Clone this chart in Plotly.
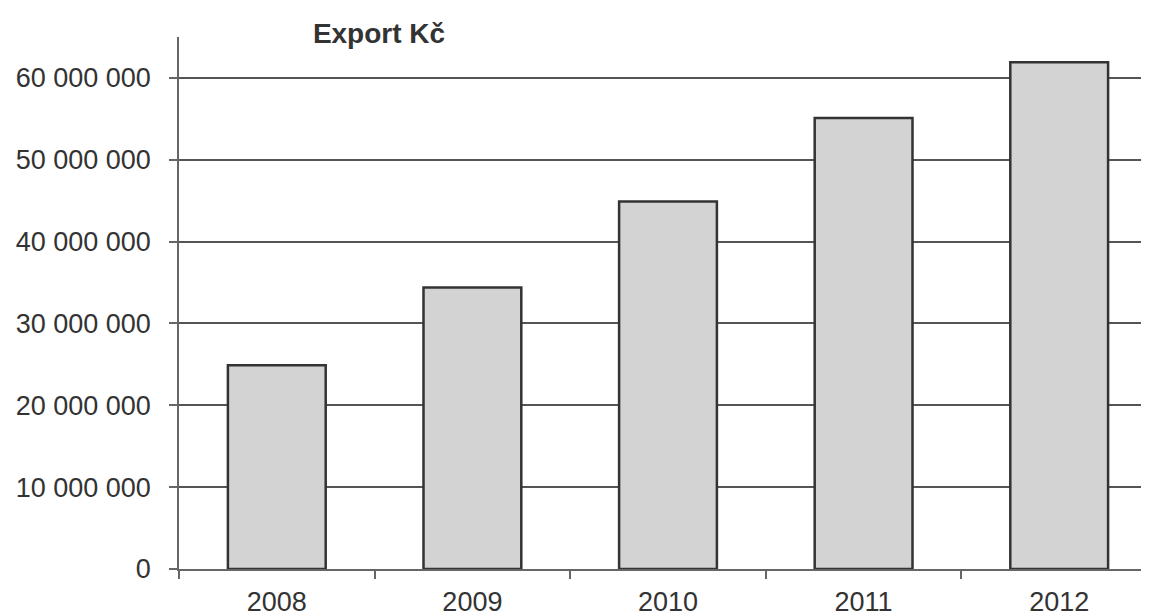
import plotly.graph_objects as go

years = ["2008", "2009", "2010", "2011", "2012"]
export_czk = [24_900_000, 34_400_000, 44_900_000, 55_100_000, 61_900_000]
y_ticks = [0, 10_000_000, 20_000_000, 30_000_000, 40_000_000, 50_000_000, 60_000_000]
y_tick_labels = ["0", "10 000 000", "20 000 000", "30 000 000", "40 000 000", "50 000 000", "60 000 000"]
title_text = "Export Kč"

FONT = "Liberation Sans, Arial, sans-serif"

fig = go.Figure(
    go.Bar(
        x=years,
        y=export_czk,
        width=0.5,
        marker=dict(color="#d3d3d3", line=dict(color="#333333", width=2.5)),
    )
)

# page body has an 8px margin, so positions are offset by -8 px
fig.update_layout(
    width=1149,
    height=615,
    margin=dict(l=171, r=0, t=29, b=54),
    paper_bgcolor="white",
    plot_bgcolor="white",
    showlegend=False,
    title=dict(
        text="<b>" + title_text + "</b>",
        font=dict(family=FONT, size=28, color="#333333"),
        xref="container", yref="container",
        x=371 / 1149, xanchor="center",
        y=1 - 25 / 615, yanchor="middle",
    ),
    font=dict(family=FONT, color="#333333"),
)

fig.update_xaxes(
    type="category",
    range=[-0.5, 4.5],
    showline=True, linecolor="#666666", linewidth=1.5,
    ticks="outside", tickson="boundaries", ticklen=8, tickcolor="#666666", tickwidth=1.5,
    showgrid=False,
    tickfont=dict(family=FONT, size=27, color="#333333"),
    ticklabelstandoff=8,
)

fig.update_yaxes(
    range=[0, 65_000_000],
    tickvals=y_ticks, ticktext=y_tick_labels,
    showline=True, linecolor="#666666", linewidth=1.5,
    ticks="outside", ticklen=8, tickcolor="#666666", tickwidth=1.5,
    showgrid=True, gridcolor="#555555", gridwidth=1.5,
    zeroline=False,
    tickfont=dict(family=FONT, size=27, color="#333333"),
    ticklabelstandoff=13,
)

fig.write_html("out.html")
